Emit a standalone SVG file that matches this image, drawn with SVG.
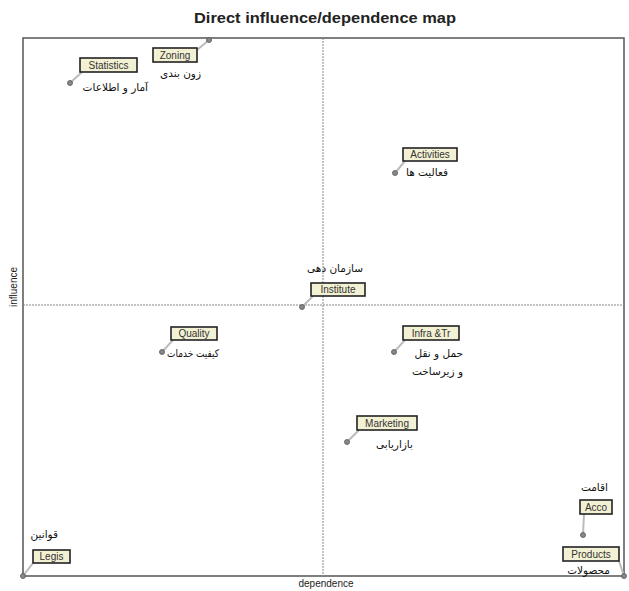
<svg xmlns="http://www.w3.org/2000/svg" width="629" height="591" viewBox="0 0 629 591">
<style>
.title{font-family:"Liberation Sans",Arial,sans-serif;font-size:15px;font-weight:bold;fill:#222}
.axis{font-family:"Liberation Sans",Arial,sans-serif;font-size:10px;fill:#222}
.box{fill:#f3f1d4;stroke:#222;stroke-width:1.6}
.lbl{font-family:"Liberation Sans",Arial,sans-serif;font-size:10px;fill:#333}
.fa{font-family:"DejaVu Sans","Noto Sans",sans-serif;font-size:10.5px;fill:#111}
.lead{stroke:#bbb;stroke-width:2}
.pt{fill:#888;stroke:#555;stroke-width:0.8}
</style>
<rect width="629" height="591" fill="#fff"/>
<text class="title" x="325" y="23" text-anchor="middle" textLength="262" lengthAdjust="spacingAndGlyphs">Direct influence/dependence map</text>
<g id="frame">
<rect x="23" y="38" width="601" height="538" fill="none" stroke="#555" stroke-width="1.5"/>
<line x1="323" y1="38" x2="323" y2="576" stroke="#888" stroke-width="1" stroke-dasharray="2,1"/>
<line x1="23" y1="305" x2="624" y2="305" stroke="#888" stroke-width="1" stroke-dasharray="2,1"/>
</g>
<text class="axis" x="326" y="587" text-anchor="middle">dependence</text>
<text class="axis" transform="translate(17,287) rotate(-90)" text-anchor="middle">influence</text>
<g id="connectors">
<line class="lead" x1="82" y1="72" x2="70" y2="83"/>
<line class="lead" x1="197" y1="50" x2="209" y2="40"/>
<line class="lead" x1="405" y1="161" x2="395" y2="173"/>
<line class="lead" x1="313" y1="296" x2="302" y2="307"/>
<line class="lead" x1="173" y1="340" x2="162" y2="352"/>
<line class="lead" x1="405" y1="340" x2="394" y2="352"/>
<line class="lead" x1="359" y1="430" x2="347" y2="442"/>
<line class="lead" x1="584" y1="514" x2="583" y2="535"/>
<line class="lead" x1="619" y1="561" x2="624" y2="576"/>
<line class="lead" x1="33" y1="563" x2="23" y2="576"/>
</g>
<g id="statistics">
<circle class="pt" cx="70" cy="83" r="2.5"/>
<rect class="box" x="80" y="58" width="57" height="14"/>
<text class="lbl" x="108.5" y="69" text-anchor="middle">Statistics</text>
<text class="fa" x="148" y="91" text-anchor="end">آمار و اطلاعات</text>
</g>
<g id="zoning">
<circle class="pt" cx="209" cy="40" r="2.5"/>
<rect class="box" x="153" y="48" width="44" height="14"/>
<text class="lbl" x="175" y="59" text-anchor="middle">Zoning</text>
<text class="fa" x="201" y="77" text-anchor="end">زون بندی</text>
</g>
<g id="activities">
<circle class="pt" cx="395" cy="173" r="2.5"/>
<rect class="box" x="403" y="148" width="54" height="13"/>
<text class="lbl" x="430" y="158" text-anchor="middle">Activities</text>
<text class="fa" x="448" y="176" text-anchor="end">فعالیت ها</text>
</g>
<g id="institute">
<circle class="pt" cx="302" cy="307" r="2.5"/>
<rect class="box" x="311" y="283" width="54" height="13"/>
<text class="lbl" x="338" y="293" text-anchor="middle">Institute</text>
<text class="fa" x="363" y="272" text-anchor="end">سازمان دهی</text>
</g>
<g id="quality">
<circle class="pt" cx="162" cy="352" r="2.5"/>
<rect class="box" x="171" y="327" width="46" height="13"/>
<text class="lbl" x="194" y="337" text-anchor="middle">Quality</text>
<text class="fa" x="219" y="357" text-anchor="end" textLength="52" lengthAdjust="spacingAndGlyphs">کیفیت خدمات</text>
</g>
<g id="infra">
<circle class="pt" cx="394" cy="352" r="2.5"/>
<rect class="box" x="403" y="326" width="56" height="14"/>
<text class="lbl" x="431" y="337" text-anchor="middle">Infra &amp;Tr</text>
<text class="fa" x="463" y="357" text-anchor="end">حمل و نقل</text>
<text class="fa" x="463" y="375" text-anchor="end">و زیرساخت</text>
</g>
<g id="marketing">
<circle class="pt" cx="347" cy="442" r="2.5"/>
<rect class="box" x="357" y="416" width="60" height="14"/>
<text class="lbl" x="387" y="427" text-anchor="middle">Marketing</text>
<text class="fa" x="413" y="448" text-anchor="end">بازاریابی</text>
</g>
<g id="acco">
<circle class="pt" cx="583" cy="535" r="2.5"/>
<rect class="box" x="580" y="500" width="32" height="14"/>
<text class="lbl" x="596" y="511" text-anchor="middle">Acco</text>
<text class="fa" x="608" y="491" text-anchor="end">اقامت</text>
</g>
<g id="products">
<circle class="pt" cx="624" cy="576" r="2.5"/>
<rect class="box" x="563" y="547" width="56" height="14"/>
<text class="lbl" x="591" y="558" text-anchor="middle">Products</text>
<text class="fa" x="610" y="574" text-anchor="end">محصولات</text>
</g>
<g id="legis">
<circle class="pt" cx="23" cy="576" r="2.5"/>
<rect class="box" x="33" y="550" width="37" height="13"/>
<text class="lbl" x="51.5" y="560" text-anchor="middle">Legis</text>
<text class="fa" x="58" y="538" text-anchor="end">قوانین</text>
</g>
</svg>
